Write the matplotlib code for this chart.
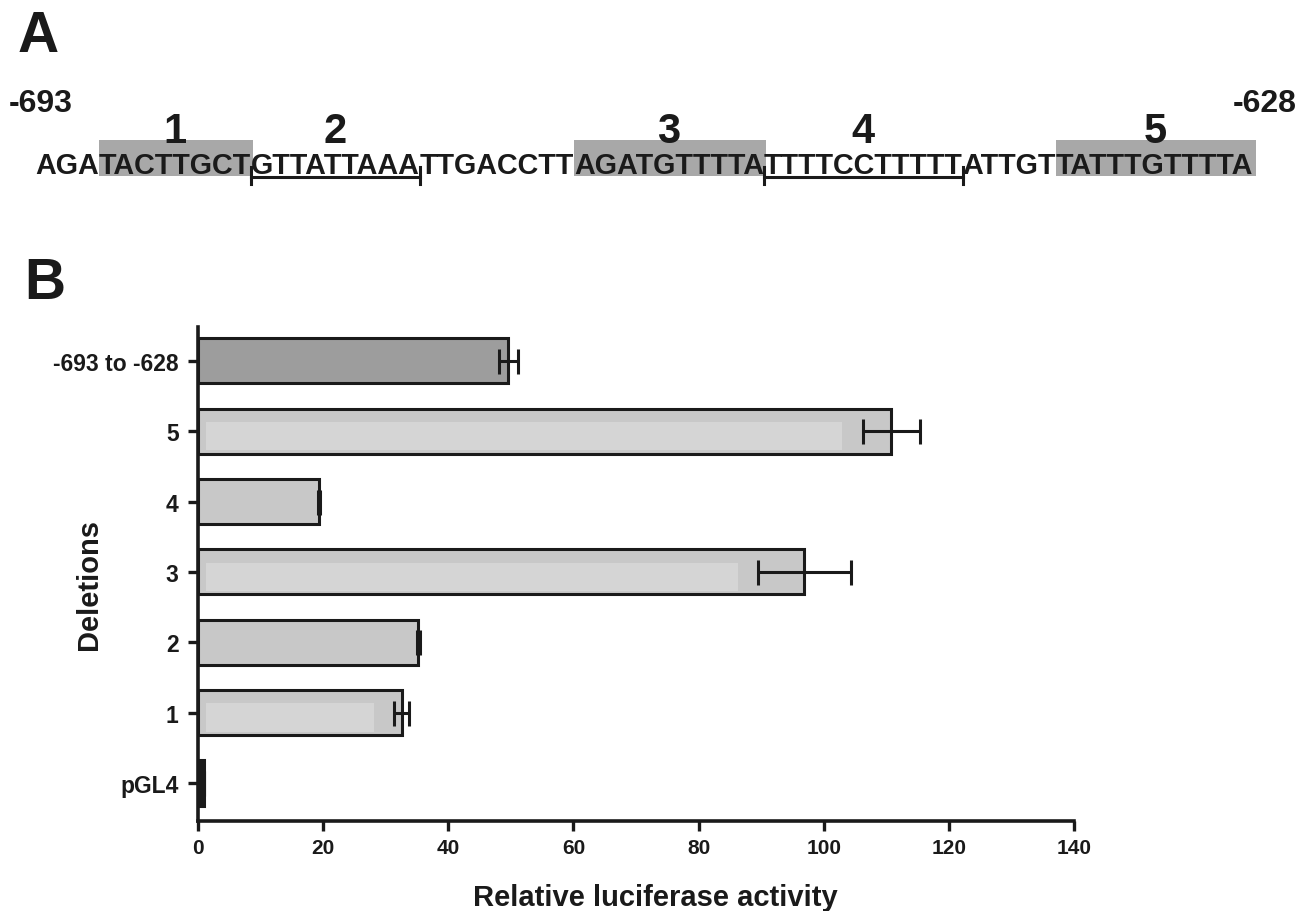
import matplotlib
matplotlib.use("Agg")
import matplotlib.pyplot as plt
from matplotlib.patches import Rectangle

plt.rcParams['font.family'] = ['Liberation Sans', 'DejaVu Sans']
plt.rcParams['font.weight'] = 'bold'

# panel A: promoter sequence split into its regions
seq_parts = ["AGA", "TACTTGCT", "GTTATTAAA", "TTGACCTT", "AGATGTTTTA",
             "TTTTCCTTTTT", "ATTGT", "TATTTGTTTTA"]
part_kind = ["plain", "box", "bracket", "plain", "box", "bracket", "plain", "box"]
part_label = ["", "1", "2", "", "3", "4", "", "5"]
seq_start, seq_end = "-693", "-628"

# panel B: deletion constructs
deletions = ["pGL4", "1", "2", "3", "4", "5", "-693 to -628"]
activity = [1.0, 32.6, 35.2, 96.9, 19.3, 110.8, 49.6]
activity_err = [0.0, 1.2, 0.2, 7.4, 0.2, 4.6, 1.5]
bar_colors = ["#1a1a1a", "#c8c8c8", "#c8c8c8", "#c8c8c8", "#c8c8c8", "#c8c8c8", "#9d9d9d"]
has_sheen = [False, True, False, True, False, True, False]

W, H = 1311, 912
INK = "#1a1a1a"
fig = plt.figure(figsize=(W / 100, H / 100), dpi=100)

# overlay axes in pixel units for panel A and panel letters
top = fig.add_axes([0, 0, 1, 1])
top.set_xlim(0, W)
top.set_ylim(H, 0)
top.axis("off")

top.text(18, 52, "A", fontsize=41, fontweight="bold", color=INK, va="baseline")
top.text(24, 299, "B", fontsize=41, fontweight="bold", color=INK, va="baseline")
top.text(9, 112, seq_start, fontsize=23, fontweight="bold", color=INK, va="baseline")
top.text(1297, 112, seq_end, fontsize=23, fontweight="bold", color=INK,
         va="baseline", ha="right")

renderer = fig.canvas.get_renderer()
# size the sequence so that its pieces together span the original width
probe_w = 0
for part in seq_parts:
    p = top.text(0, 0, part, fontsize=20, fontweight="bold")
    probe_w += p.get_window_extent(renderer).width
    p.remove()
seq_fs = 20 * 1220 / probe_w

x = 35
baseline = 174
for part, kind, lab in zip(seq_parts, part_kind, part_label):
    t = top.text(x, baseline, part, fontsize=seq_fs, fontweight="bold",
                 color=INK, va="baseline", zorder=3)
    w = t.get_window_extent(renderer).width
    x0, x1 = x, x + w
    if kind == "box":
        top.add_patch(Rectangle((x0, 141), w + 2, 36, facecolor="#a8a8a8",
                                edgecolor="none", zorder=1))
    elif kind == "bracket":
        top.plot([x0, x1], [178, 178], color=INK, lw=2.2, zorder=2)
        top.plot([x0, x0], [168, 185], color=INK, lw=2.2, zorder=2)
        top.plot([x1, x1], [168, 185], color=INK, lw=2.2, zorder=2)
    if lab:
        top.text((x0 + x1) / 2, 143, lab, fontsize=30, fontweight="bold",
                 color=INK, ha="center", va="baseline")
    x = x1

# panel B bar chart
ax = fig.add_axes([198 / W, 1 - 822 / H, (1074 - 198) / W, (822 - 328) / H])
ypos = list(range(len(deletions)))
bar_h = 0.64
ax.barh(ypos, activity, height=bar_h, color=bar_colors, edgecolor=INK,
        linewidth=2.2, zorder=2)
for y, v, e, s in zip(ypos, activity, activity_err, has_sheen):
    if s:
        ax.barh(y - 0.07, v - e - 4.5, left=1.3, height=0.4, color="#d5d5d5",
                edgecolor="none", zorder=3)
ax.errorbar(activity, ypos, xerr=activity_err, fmt="none", ecolor=INK,
            elinewidth=2.2, capsize=9, capthick=2.2, zorder=4)

ax.set_xlim(0, 140)
ax.set_ylim(-0.54, len(deletions) - 0.52)
ax.set_xticks(range(0, 141, 20))
ax.set_yticks(ypos)
ax.set_yticklabels(deletions)
for s in ["top", "right"]:
    ax.spines[s].set_visible(False)
for s in ["left", "bottom"]:
    ax.spines[s].set_linewidth(2.6)
    ax.spines[s].set_color(INK)
ax.tick_params(axis="both", length=7, width=2.4, color=INK, pad=5)
ax.tick_params(axis="y", labelsize=16.5, pad=7)
ax.tick_params(axis="x", labelsize=15)
for lbl in ax.get_xticklabels() + ax.get_yticklabels():
    lbl.set_fontweight("bold")
    lbl.set_color(INK)
ax.set_xlabel("Relative luciferase activity", fontsize=21, fontweight="bold",
              color=INK)
ax.xaxis.set_label_coords(0.522, -0.125)
ax.set_ylabel("Deletions", fontsize=21, fontweight="bold", color=INK)
ax.yaxis.set_label_coords(-0.108, 0.48)

fig.savefig("out.png", dpi=100)
